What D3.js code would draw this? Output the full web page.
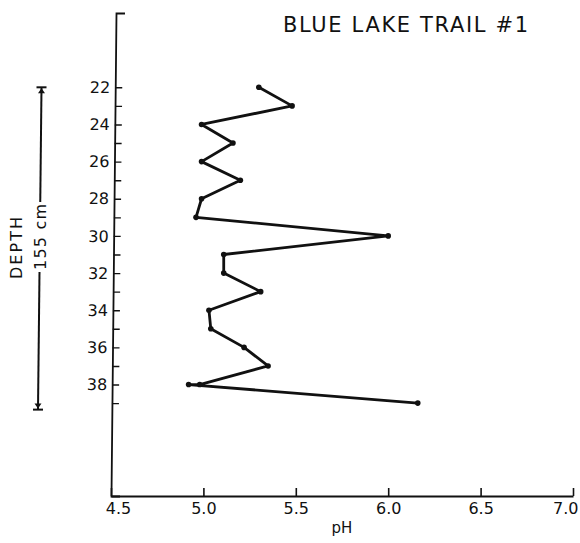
<!DOCTYPE html>
<html>
<head>
<meta charset="utf-8">
<script src="https://cdn.jsdelivr.net/npm/d3@7"></script>
<style>
  html, body { margin: 0; padding: 0; background: #fff; }
  svg { display: block; }
  text { font-family: "DejaVu Sans", "Liberation Sans", sans-serif; fill: #111; }
</style>
</head>
<body>
<svg id="chart" width="580" height="543"></svg>
<script>
// Soil profile: pH measured down the core, one reading per depth step
const depths   = [22, 23, 24, 25, 26, 27, 28, 29, 30, 31, 32, 33, 34, 35, 36, 37, 38, 38, 39];
const phValues = [5.30, 5.48, 4.99, 5.16, 4.99, 5.20, 4.99, 4.96, 6.00, 5.11, 5.11, 5.31, 5.03, 5.04, 5.22, 5.35, 4.98, 4.92, 6.16];

const phTicks = [4.5, 5.0, 5.5, 6.0, 6.5, 7.0];
const depthTicks = [22, 23, 24, 25, 26, 27, 28, 29, 30, 31, 32, 33, 34, 35, 36, 37, 38, 39];
const depthTickLabels = [22, 24, 26, 28, 30, 32, 34, 36, 38];

const titleText = "BLUE LAKE TRAIL #1";
const xTitle = "pH";
const sideTitle = "DEPTH";
const spanLabel = "155 cm";
const spanDepths = [22, 39.35];

const svg = d3.select("#chart");

const x = d3.scaleLinear().domain([4.5, 7.0]).range([111, 573]);
const y = d3.scaleLinear().domain([18, 44]).range([13, 496]);

// x axis: ticks point up into the plot
const xAxis = svg.append("g")
  .attr("transform", `translate(0,${y.range()[1]})`)
  .call(d3.axisBottom(x)
    .tickValues(phTicks)
    .tickFormat(d3.format(".1f"))
    .tickSizeInner(-8)
    .tickSizeOuter(0)
    .tickPadding(7));
xAxis.select(".domain").attr("stroke", "#111").attr("stroke-width", 1.8);
xAxis.selectAll(".tick line").attr("stroke", "#111").attr("stroke-width", 1.6);
xAxis.selectAll(".tick text")
  .attr("font-size", 16)
  .attr("font-family", "Liberation Sans, sans-serif")
  .attr("fill", "#111");
// keep the end labels clear of the frame
xAxis.selectAll(".tick text").filter(d => d === phTicks[phTicks.length - 1])
  .attr("text-anchor", "end").attr("dx", 5);
xAxis.selectAll(".tick text").filter(d => d === phTicks[0]).attr("dx", 7);

// depth axis: ticks point right, labels on even depths only; slight lean of the ruled line
const lean = 5 / (y.range()[1] - y.range()[0]);
const yShiftTop = 5 + lean * y.range()[0];
const yAxis = svg.append("g")
  .attr("transform", `translate(${x(4.5) + yShiftTop},0) skewX(${-Math.atan(lean) * 180 / Math.PI})`)
  .call(d3.axisLeft(y)
    .tickValues(depthTicks)
    .tickFormat(d => depthTickLabels.includes(d) ? String(d) : "")
    .tickSizeInner(-7)
    .tickSizeOuter(-9)
    .tickPadding(5));
yAxis.select(".domain").attr("stroke", "#111").attr("stroke-width", 1.8);
yAxis.selectAll(".tick line").attr("stroke", "#111").attr("stroke-width", 1.4);
yAxis.selectAll(".tick text").attr("font-size", 16).attr("font-family", "DejaVu Sans, sans-serif").attr("fill", "#111");

// pH profile line
const pts = depths.map((d, i) => ({ depth: d, ph: phValues[i] }));
svg.append("path")
  .datum(pts)
  .attr("fill", "none")
  .attr("stroke", "#111")
  .attr("stroke-width", 2.8)
  .attr("stroke-linejoin", "round")
  .attr("d", d3.line().x(d => x(d.ph)).y(d => y(d.depth)));

svg.append("g").selectAll("circle")
  .data(pts)
  .join("circle")
  .attr("cx", d => x(d.ph))
  .attr("cy", d => y(d.depth))
  .attr("r", 2.8)
  .attr("fill", "#111");

// title
svg.append("text")
  .attr("x", 283)
  .attr("y", 32)
  .attr("font-size", 21)
  .attr("textLength", 245)
  .attr("lengthAdjust", "spacing")
  .text(titleText);

// x axis title
svg.append("text")
  .attr("x", x(5.75))
  .attr("y", 533)
  .attr("text-anchor", "middle")
  .attr("font-size", 15)
  .text(xTitle);

// side annotation: DEPTH and the 155 cm span arrow
svg.append("text")
  .attr("transform", "translate(22,248) rotate(-90)")
  .attr("text-anchor", "middle")
  .attr("font-size", 16)
  .attr("textLength", 62)
  .attr("lengthAdjust", "spacing")
  .text(sideTitle);

const yTop = y(spanDepths[0]);
const yBot = y(spanDepths[1]);
const xTopArrow = 41.5, xBotArrow = 38;
const xAt = yy => xTopArrow + (xBotArrow - xTopArrow) * (yy - yTop) / (yBot - yTop);
const gapTop = 202, gapBot = 272;

svg.append("text")
  .attr("transform", `translate(${xAt(237) + 6},237) rotate(-90)`)
  .attr("text-anchor", "middle")
  .attr("font-size", 16)
  .attr("textLength", 66)
  .attr("lengthAdjust", "spacing")
  .text(spanLabel);

const arrow = svg.append("g").attr("stroke", "#111").attr("fill", "#111");
arrow.append("line")
  .attr("x1", xAt(yTop)).attr("y1", yTop)
  .attr("x2", xAt(gapTop)).attr("y2", gapTop)
  .attr("stroke-width", 2);
arrow.append("line")
  .attr("x1", xAt(gapBot)).attr("y1", gapBot)
  .attr("x2", xAt(yBot)).attr("y2", yBot)
  .attr("stroke-width", 2);
// end bars
arrow.append("line")
  .attr("x1", xAt(yTop) - 5).attr("x2", xAt(yTop) + 5)
  .attr("y1", yTop).attr("y2", yTop)
  .attr("stroke-width", 2);
arrow.append("line")
  .attr("x1", xAt(yBot) - 5).attr("x2", xAt(yBot) + 5)
  .attr("y1", yBot).attr("y2", yBot)
  .attr("stroke-width", 2);
// arrow heads pointing at the bars
arrow.append("path")
  .attr("stroke", "none")
  .attr("d", `M${xAt(yTop) - 3.5},${yTop + 6} L${xAt(yTop) + 3.5},${yTop + 6} L${xAt(yTop)},${yTop + 1} Z`);
arrow.append("path")
  .attr("stroke", "none")
  .attr("d", `M${xAt(yBot) - 3.5},${yBot - 6} L${xAt(yBot) + 3.5},${yBot - 6} L${xAt(yBot)},${yBot - 1} Z`);
</script>
</body>
</html>
